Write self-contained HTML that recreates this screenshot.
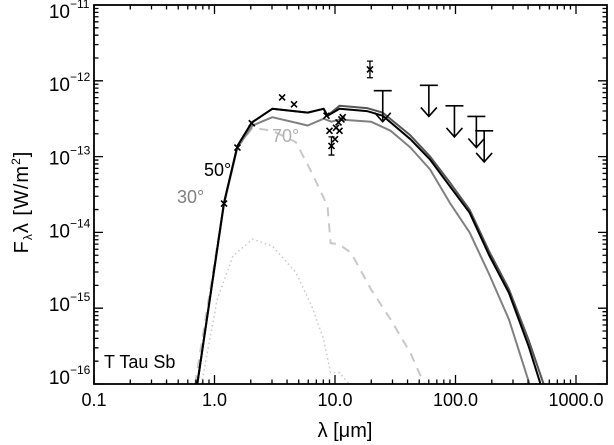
<!DOCTYPE html>
<html><head><meta charset="utf-8">
<style>
html,body{margin:0;padding:0;background:#fff;}
svg{display:block;font-family:"Liberation Sans",sans-serif;}
</style></head>
<body>
<svg id="chart" width="614" height="445" viewBox="0 0 614 445" xmlns="http://www.w3.org/2000/svg">
<g id="curves"></g>
<g id="points"></g>
<g id="axes"></g>
<text x="104" y="368" font-size="18" fill="#000">T Tau Sb</text>
<text x="177" y="203" font-size="18" fill="#808080">30°</text>
<text x="204" y="176" font-size="18" fill="#000">50°</text>
<text x="272" y="142" font-size="18" fill="#b0b0b0">70°</text>
<text x="345" y="437" font-size="20" text-anchor="middle">λ  [μm]</text>
<text transform="translate(28,202) rotate(-90)" font-size="20" text-anchor="middle" letter-spacing="1">F<tspan font-size="12" dy="4">λ</tspan><tspan dy="-4">λ  [W/m</tspan><tspan font-size="12" dy="-8">2</tspan><tspan dy="8">]</tspan></text>
</svg>
<script>
// ---- data ----
const blackLam = [0.72,1.20,1.55,2.04,3.02,5.94,8.04,8.67,10.9,18.4,24.9,42.2,61.5,89.7,131,190,278,404,507];
const blackLogF = [-16,-13.61,-12.86,-12.55,-12.37,-12.42,-12.37,-12.46,-12.37,-12.40,-12.46,-12.77,-13.04,-13.39,-13.74,-14.30,-14.80,-15.50,-16];
const darkLam = [0.72,1.20,1.55,2.04,3.02,5.94,8.04,8.67,10.9,18.4,24.9,42.2,61.5,89.7,131,190,278,404,538];
const darkLogF = [-16,-13.61,-12.86,-12.55,-12.37,-12.42,-12.37,-12.46,-12.33,-12.36,-12.42,-12.72,-13.00,-13.34,-13.70,-14.25,-14.75,-15.42,-16];
const grayLam = [0.72,1.20,1.55,2.07,3.02,5.94,8.04,9.35,10.9,19.9,29.0,42.2,61.5,89.7,131,190,278,411];
const grayLogF = [-16,-13.63,-12.88,-12.59,-12.48,-12.59,-12.50,-12.54,-12.51,-12.54,-12.66,-12.88,-13.17,-13.61,-14.0,-14.55,-15.15,-16];
const dashLam = [0.69,1.20,1.55,2.07,3.02,4.74,6.41,8.67,9.2,10.9,13.6,19.9,29.0,42.2,55];
const dashLogF = [-16,-13.61,-12.88,-12.62,-12.66,-12.81,-13.21,-13.65,-14.14,-14.16,-14.27,-14.75,-15.15,-15.59,-16];
const dotLam = [0.78,1.05,1.42,2.07,3.02,4.74,6.41,8.04,9.2,10.9,13.1];
const dotLogF = [-16,-14.89,-14.31,-14.09,-14.18,-14.53,-14.97,-15.41,-15.85,-15.85,-16];
const ptLam = [1.20,1.55,2.04,3.64,4.57,8.5,9.0,9.35,10.0,10.2,10.7,11.3,11.6,10.9,19.5];
const ptLogF = [-13.62,-12.88,-12.56,-12.22,-12.31,-12.46,-12.66,-12.86,-12.77,-12.62,-12.55,-12.51,-12.48,-12.66,-11.85];
const ptErr = [0,0,0,0,0,0,0,0.12,0,0,0,0,0,0,0.11];
const ulLam = [24.9,60.1,98,149,173];
const ulLogF = [-12.13,-12.06,-12.33,-12.47,-12.66];
const xTickVals = [0.1,1,10,100,1000];
const xTickLabels = ["0.1","1.0","10.0","100.0","1000.0"];
const yTickExps = [-11,-12,-13,-14,-15,-16];

// ---- axes functions ----
const X0=94, X1=607, Y0=5, Y1=384, DX=120.5;
const xs = l => X0 + (Math.log10(l)+1)*DX;
const ys = e => Y0 + (-11 - e)*(Y1-Y0)/5;
const NS="http://www.w3.org/2000/svg";
function mk(tag, attrs, parent){const e=document.createElementNS(NS,tag);for(const k in attrs)e.setAttribute(k,attrs[k]);parent.appendChild(e);return e;}
function path(lam, lf){return lam.map((l,i)=>(i?"L":"M")+xs(l).toFixed(1)+","+ys(lf[i]).toFixed(1)).join("");}

const cg=document.getElementById("curves");
const cp=document.createElementNS(NS,"clipPath");cp.setAttribute("id","clip");
mk("rect",{x:X0,y:Y0,width:X1-X0,height:Y1-Y0},cp);cg.appendChild(cp);
cg.setAttribute("clip-path","url(#clip)");
let e;
e=mk("path",{d:path(dotLam,dotLogF),fill:"none",stroke:"#c8c8c8","stroke-width":1.5,"stroke-dasharray":"1.5 3"},cg);


e=mk("path",{d:path(dashLam,dashLogF),fill:"none",stroke:"#c8c8c8","stroke-width":2,"stroke-dasharray":"9 7"},cg);


e=mk("path",{d:path(grayLam,grayLogF),fill:"none",stroke:"#808080","stroke-width":2,"stroke-linejoin":"round"},cg);


e=mk("path",{d:path(darkLam,darkLogF),fill:"none",stroke:"#555","stroke-width":2,"stroke-linejoin":"round"},cg);


e=mk("path",{d:path(blackLam,blackLogF),fill:"none",stroke:"#000","stroke-width":2,"stroke-linejoin":"round"},cg);



const pg=document.getElementById("points");
ptLam.forEach((l,i)=>{
  const x=xs(l), y=ys(ptLogF[i]);
  const g=mk("g",{stroke:"#000","stroke-width":1.6,fill:"none"},pg);
  
  
  mk("path",{d:`M${x-3},${y-3}L${x+3},${y+3}M${x-3},${y+3}L${x+3},${y-3}`},g);
  if(ptErr[i]>0){
    const yt=ys(ptLogF[i]+ptErr[i]), yb=ys(ptLogF[i]-ptErr[i]);
    mk("path",{d:`M${x},${yt}L${x},${yb}M${x-3},${yt}L${x+3},${yt}M${x-3},${yb}L${x+3},${yb}`,"stroke-width":1.3},g);
  }
});
ulLam.forEach((l,i)=>{
  const x=xs(l), y=ys(ulLogF[i]), yt=ys(ulLogF[i]-0.41);
  const g=mk("g",{stroke:"#000","stroke-width":1.6,fill:"none"},pg);
  
  
  mk("path",{d:`M${x-9},${y}L${x+9},${y}M${x},${y}L${x},${yt}M${x-8},${yt-9}L${x},${yt}L${x+8},${yt-9}`},g);
});

const ag=document.getElementById("axes");
e=mk("rect",{x:X0,y:Y0,width:X1-X0,height:Y1-Y0,fill:"none",stroke:"#000","stroke-width":1.8},ag);


let td="";
for(let d=-1; d<=3; d++){
  for(let m=1;m<=9;m++){
    const v=m*Math.pow(10,d); const x=xs(v); if(x>X1) continue;
    const len=m===1?9:4.5;
    td+=`M${x},${Y1}L${x},${Y1-len}M${x},${Y0}L${x},${Y0+len}`;
  }
}
for(let ex=-16; ex<-11; ex++){
  for(let m=1;m<=9;m++){
    const y=ys(ex+Math.log10(m)); const len=m===1?9:4.5;
    td+=`M${X0},${y}L${X0+len},${y}M${X1},${y}L${X1-len},${y}`;
  }
}
e=mk("path",{d:td,stroke:"#000","stroke-width":1.3,fill:"none"},ag);


xTickVals.forEach((v,i)=>{
  const t=mk("text",{x:xs(v),y:406,"font-size":18,"text-anchor":"middle"},ag);
  t.textContent=xTickLabels[i];
  
  
});
yTickExps.forEach(ex=>{
  const off = 13 + (ex+11)*2.6;
  const t=mk("text",{x:70,y:ys(ex)+off,"font-size":19,"text-anchor":"end"},ag);
  t.textContent="10";
  
  
  const s=mk("text",{x:70,y:ys(ex)+off-10,"font-size":12},ag);
  s.textContent="−"+(-ex);
  
  
});
</script>
</body></html>
